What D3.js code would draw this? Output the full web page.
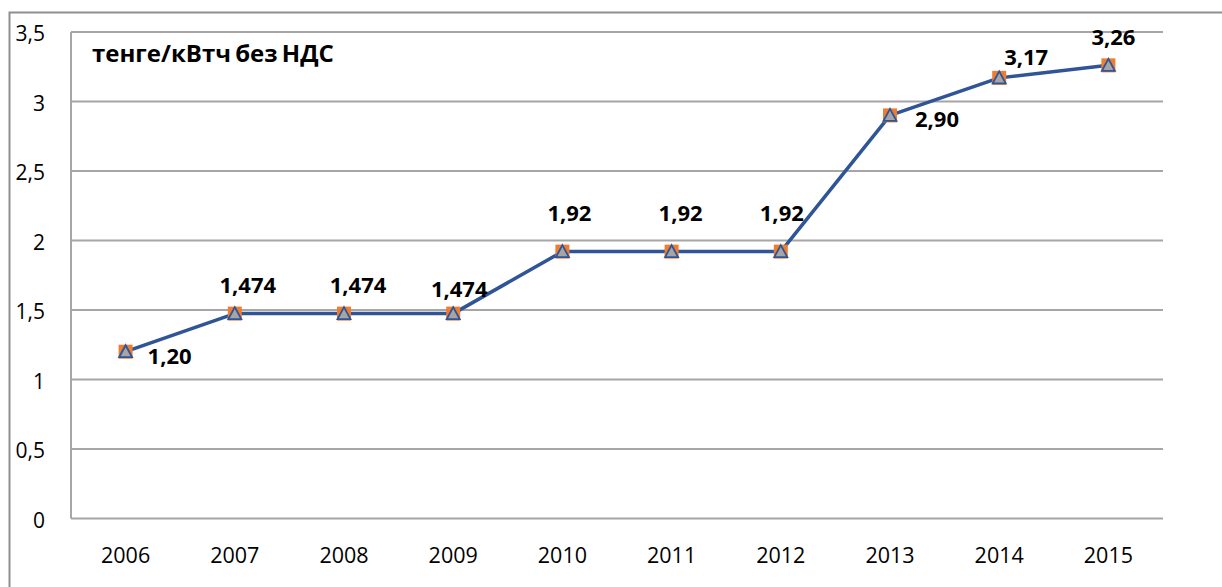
<!DOCTYPE html>
<html>
<head>
<meta charset="utf-8">
<script src="https://cdn.jsdelivr.net/npm/d3@7"></script>
<style>
  body { margin: 0; background: #fff; }
  text { font-family: "Open Sans", "Liberation Sans", sans-serif; }
</style>
</head>
<body>
<div id="chart"></div>
<script>
// data
const years = ["2006", "2007", "2008", "2009", "2010", "2011", "2012", "2013", "2014", "2015"];
const values = [1.20, 1.474, 1.474, 1.474, 1.92, 1.92, 1.92, 2.90, 3.17, 3.26];
const valueLabels = ["1,20", "1,474", "1,474", "1,474", "1,92", "1,92", "1,92", "2,90", "3,17", "3,26"];
const yTicks = [0, 0.5, 1, 1.5, 2, 2.5, 3, 3.5];
const yTickLabels = ["0", "0,5", "1", "1,5", "2", "2,5", "3", "3,5"];
const unitTitle = "тенге/кВтч без НДС";

// where each data label sits relative to its point (centre x, baseline)
const labelOffset = [[44, 12], [13, -21], [14, -21], [6, -17], [7, -31], [9, -31], [1, -31], [47, 12], [27, -13], [5, -20]];

const width = 1222;
const height = 587;
const margin = {top: 32, left: 71, right: 59, bottom: 68.5};

let svg = d3.select("#chart")
    .append("svg")
    .attr("width", width)
    .attr("height", height);

svg.append("rect")
    .attr("width", width).attr("height", height)
    .attr("fill", "#fff");

// outer chart frame (runs off the right/bottom edges)
svg.append("rect")
    .attr("x", 9.5).attr("y", 12.5)
    .attr("width", 1240).attr("height", 600)
    .attr("fill", "none")
    .attr("stroke", "#8f8f8f")
    .attr("stroke-width", 2);

let xScale = d3.scaleBand()
    .domain(years)
    .range([margin.left, width - margin.right]);

let yScale = d3.scaleLinear()
    .domain([0, 3.5])
    .range([height - margin.bottom, margin.top]);

// gridlines
svg.append("g").selectAll("line")
    .data(yTicks)
    .enter()
    .append("line")
    .attr("x1", margin.left)
    .attr("x2", width - margin.right)
    .attr("y1", function(d) {return yScale(d);})
    .attr("y2", function(d) {return yScale(d);})
    .style("stroke", "#a6a6a6")
    .style("stroke-width", 2);

// left axis line
svg.append("line")
    .attr("x1", margin.left).attr("x2", margin.left)
    .attr("y1", yScale(3.5)).attr("y2", yScale(0))
    .style("stroke", "#a6a6a6")
    .style("stroke-width", 2);

// y tick labels
svg.append("g").selectAll("text")
    .data(yTicks)
    .enter()
    .append("text")
    .attr("x", 45)
    .attr("y", function(d) {return yScale(d) + 9;})
    .attr("text-anchor", "end")
    .style("font-size", "21px")
    .style("fill", "#000")
    .text(function(d, i) {return yTickLabels[i];});

// x tick labels
svg.append("g").selectAll("text")
    .data(years)
    .enter()
    .append("text")
    .attr("x", function(d) {return xScale(d) + xScale.bandwidth() / 2;})
    .attr("y", 563)
    .attr("text-anchor", "middle")
    .style("font-size", "21.5px")
    .style("fill", "#000")
    .text(function(d) {return d;});

// unit title
svg.append("text")
    .attr("x", 92)
    .attr("y", 62)
    .style("font-size", "24px")
    .style("font-weight", "bold")
    .style("word-spacing", "-2px")
    .text(unitTitle);

let pts = years.map(function(d, i) {
    return {x: xScale(d) + xScale.bandwidth() / 2, y: yScale(values[i]), i: i};
});

// series line
svg.append("path")
    .datum(pts)
    .attr("d", d3.line().x(function(d) {return d.x;}).y(function(d) {return d.y;}))
    .style("fill", "none")
    .style("stroke", "#2f5597")
    .style("stroke-width", 3.5)
    .style("stroke-linejoin", "round");

// markers: orange square under a grey triangle
svg.append("g").selectAll("rect")
    .data(pts)
    .enter()
    .append("rect")
    .attr("x", function(d) {return d.x - 7;})
    .attr("y", function(d) {return d.y - 7;})
    .attr("width", 14)
    .attr("height", 14)
    .style("fill", "#ed7d31");

svg.append("g").selectAll("path")
    .data(pts)
    .enter()
    .append("path")
    .attr("d", function(d) {
        return "M" + d.x + "," + (d.y - 6.5) + "L" + (d.x + 6.5) + "," + (d.y + 5.5) + "L" + (d.x - 6.5) + "," + (d.y + 5.5) + "Z";
    })
    .style("fill", "#a5a5a5")
    .style("stroke", "#2f5597")
    .style("stroke-width", 1.8)
    .style("stroke-linejoin", "miter");

// data labels
svg.append("g").selectAll("text")
    .data(pts)
    .enter()
    .append("text")
    .attr("x", function(d) {return d.x + labelOffset[d.i][0];})
    .attr("y", function(d) {return d.y + labelOffset[d.i][1];})
    .attr("text-anchor", "middle")
    .style("font-size", "22px")
    .style("font-weight", "bold")
    .style("fill", "#000")
    .text(function(d) {return valueLabels[d.i];});
</script>
</body>
</html>
